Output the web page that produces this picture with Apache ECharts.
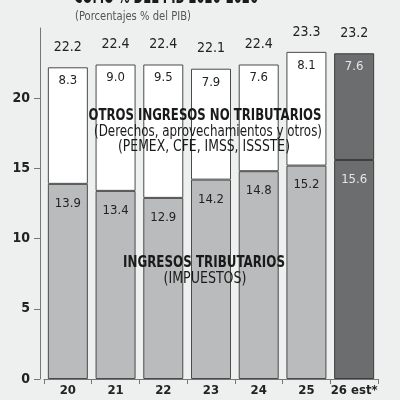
<!DOCTYPE html>
<html>
<head>
<meta charset="utf-8">
<script src="https://cdn.jsdelivr.net/npm/echarts@6/dist/echarts.min.js"></script>
<style>
  html, body { margin: 0; padding: 0; background: #eef0f0; }
  #chart { width: 400px; height: 400px; }
</style>
</head>
<body>
<div id="chart"></div>
<script>
const years = ['20', '21', '22', '23', '24', '25', '26 est*'];
const tributarios = [13.9, 13.4, 12.9, 14.2, 14.8, 15.2, 15.6];
const noTributarios = [8.3, 9.0, 9.5, 7.9, 7.6, 8.1, 7.6];
const totales = [22.2, 22.4, 22.4, 22.1, 22.4, 23.3, 23.2];
const yTicks = [0, 5, 10, 15, 20];

const FONT = '"DejaVu Sans Condensed", "Liberation Sans Narrow", sans-serif';
const last = years.length - 1;

// squeeze a text horizontally so it has the width of the printed one
const ctx = document.createElement('canvas').getContext('2d');
function squeeze(text, font, width) {
  ctx.font = font;
  return width / ctx.measureText(text).width;
}

function note(text, font, x, y, width, color) {
  return {
    type: 'text',
    z: 100,
    x: x,
    y: y,
    scaleX: squeeze(text, font, width),
    style: { text: text, font: font, fill: color || '#1a1a1a', align: 'center', verticalAlign: 'middle' },
  };
}

const myChart = echarts.init(document.getElementById('chart'));

const option = {
  backgroundColor: '#eef0f0',
  animation: false,
  grid: { left: 44, right: 22, top: 28, bottom: 21 },
  xAxis: {
    type: 'category',
    data: years,
    axisLine: { lineStyle: { color: '#777', width: 1 } },
    axisTick: { show: true, length: 5, lineStyle: { color: '#777' } },
    axisLabel: { interval: 0, color: '#222', fontFamily: FONT, fontWeight: 'bold', fontSize: 13, margin: 5 },
  },
  yAxis: {
    type: 'value',
    min: 0,
    max: 25,
    interval: 5,
    offset: 4,
    splitLine: { show: false },
    axisLine: { show: true, lineStyle: { color: '#777', width: 1 } },
    axisTick: { show: true, length: 6, customValues: yTicks, lineStyle: { color: '#777' } },
    axisLabel: {
      customValues: yTicks,
      color: '#222',
      fontFamily: FONT,
      fontWeight: 'bold',
      fontSize: 14,
      margin: 10,
    },
  },
  series: [
    {
      name: 'tributarios',
      type: 'bar',
      stack: 'pib',
      barWidth: 40,
      itemStyle: { color: '#b9bbbc', borderColor: '#4a4a4a', borderWidth: 1 },
      label: {
        show: true,
        position: 'insideTop',
        distance: 13,
        color: '#222',
        fontFamily: FONT,
        fontSize: 13,
        formatter: (p) => p.value.toFixed(1),
      },
      data: tributarios.map((v, i) => i === last
        ? { value: v, itemStyle: { color: '#6b6d6e', borderColor: '#3c3c3c' }, label: { color: '#e6e6e6' } }
        : v),
    },
    {
      name: 'no tributarios',
      type: 'bar',
      stack: 'pib',
      barWidth: 40,
      itemStyle: { color: '#ffffff', borderColor: '#4a4a4a', borderWidth: 1 },
      label: {
        show: true,
        position: 'insideTop',
        distance: 7,
        color: '#222',
        fontFamily: FONT,
        fontSize: 13,
        formatter: (p) => p.value.toFixed(1),
      },
      data: noTributarios.map((v, i) => i === last
        ? { value: v, itemStyle: { color: '#6b6d6e', borderColor: '#3c3c3c' }, label: { color: '#e6e6e6' } }
        : v),
    },
    {
      name: 'total',
      type: 'bar',
      stack: 'pib',
      barWidth: 40,
      silent: true,
      itemStyle: { color: 'transparent', borderWidth: 0 },
      label: {
        show: true,
        position: 'top',
        distance: 13,
        color: '#222',
        fontFamily: FONT,
        fontSize: 14,
        formatter: (p) => totales[p.dataIndex].toFixed(1),
      },
      data: totales.map(() => 0),
    },
  ],
  graphic: [
    note('COMO % DEL PIB 2020-2026', 'bold 22px ' + FONT, 166, -3, 184),
    note('(Porcentajes % del PIB)', '13px ' + FONT, 133, 17, 116, '#555'),
    note('OTROS INGRESOS NO TRIBUTARIOS', 'bold 16px ' + FONT, 205, 116, 233),
    note('(Derechos, aprovechamientos y otros)', '15px ' + FONT, 208, 132, 228),
    note('(PEMEX, CFE, IMSS, ISSSTE)', '15px ' + FONT, 204, 147, 172),
    note('INGRESOS TRIBUTARIOS', 'bold 16px ' + FONT, 204, 263, 162),
    note('(IMPUESTOS)', '15px ' + FONT, 205, 279, 83),
  ],
};

myChart.setOption(option);
</script>
</body>
</html>
